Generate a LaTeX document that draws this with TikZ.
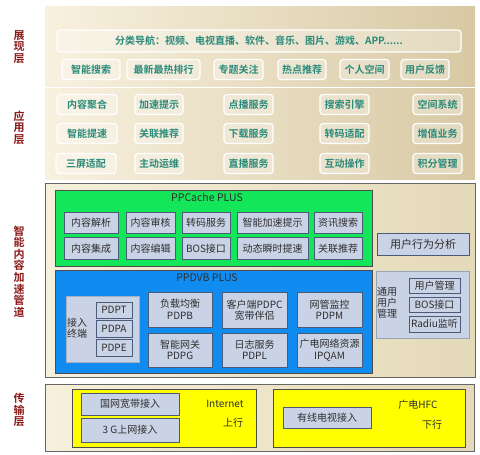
\documentclass[tikz,border=0pt]{standalone}
\usepackage{fontspec}
\setmainfont{Noto Sans CJK SC}[BoldFont={Noto Sans CJK SC Bold}]
\definecolor{labred}{HTML}{8B1A1A}
\definecolor{teal2}{HTML}{2A8A7A}
\definecolor{creamL}{HTML}{F8F1DF}
\definecolor{creamR}{HTML}{D8C9A4}
\definecolor{bg3L}{HTML}{F6F0DC}
\definecolor{bg3R}{HTML}{E4D9B8}
\definecolor{grn}{HTML}{14E65A}
\definecolor{blu}{HTML}{108CF0}
\definecolor{gfill}{HTML}{C9D3E5}
\definecolor{gdraw}{HTML}{4A5B7A}
\definecolor{yel}{HTML}{FFFF00}
\definecolor{txt}{HTML}{2E2E2E}
\tikzset{
  btn/.style={draw=white, line width=1.2pt, rounded corners=3pt, fill=white, fill opacity=0.3, text opacity=1,
    text=teal2, font=\bfseries\fontsize{10}{11}\selectfont, inner sep=0pt, minimum height=20pt},
  gbox/.style={draw=gdraw, line width=0.7pt, fill=gfill, inner sep=0pt, text=txt,
    font=\fontsize{10}{11.5}\selectfont, align=center},
  lyr/.style={text=labred, font=\bfseries\fontsize{11}{11.6}\selectfont, align=center, inner sep=0pt},
  plain/.style={text=txt, font=\fontsize{10}{11}\selectfont, align=center, inner sep=0pt},
}
\begin{document}
\begin{tikzpicture}[x=1pt,y=-1pt]
\useasboundingbox[fill=white] (0,0) rectangle (480,455);
% ---- layer 1 & 2 backgrounds
\shade[left color=creamL, right color=creamR] (45,6) rectangle (475,86);
\shade[left color=creamL, right color=creamR] (45,88) rectangle (475,179);
% ---- layer 3 background
\shade[left color=bg3L, right color=bg3R] (45,183) rectangle (475,377);
\draw[color=gray!80!black, line width=0.9pt] (45,183) rectangle (475,377);
% ---- layer 4 background
\shade[left color=bg3L, right color=bg3R] (45,384) rectangle (474,451);
\draw[color=gray!80!black, line width=0.9pt] (45,384) rectangle (474,451);

% ---- left labels
\node[lyr] (l1) at (19,47) {展\\现\\层};
\node[lyr] (l2) at (19,127.5) {应\\用\\层};
\node[lyr] (l3) at (19,271.5) {智\\能\\内\\容\\加\\速\\管\\道};
\node[lyr] (l4) at (19,410) {传\\输\\层};

% ---- layer 1
\node[btn, minimum width=404pt, minimum height=22pt] (nav) at (259,41) {分类导航：视频、电视直播、软件、音乐、图片、游戏、APP......};
\node[btn, minimum width=58pt] (p1) at (91,69.5) {智能搜索};
\node[btn, minimum width=73pt] (p2) at (163.5,69.5) {最新最热排行};
\node[btn, minimum width=49pt] (p3) at (238.5,69.5) {专题关注};
\node[btn, minimum width=48pt] (p4) at (302,69.5) {热点推荐};
\node[btn, minimum width=49pt] (p5) at (364.5,69.5) {个人空间};
\node[btn, minimum width=48pt] (p6) at (425,69.5) {用户反馈};

% ---- layer 2
\node[btn, minimum width=60pt] (a11) at (87,104.5) {内容聚合};
\node[btn, minimum width=48pt] (a12) at (159,104.5) {加速提示};
\node[btn, minimum width=49pt] (a13) at (248.5,104.5) {点播服务};
\node[btn, minimum width=49pt] (a14) at (344.5,104.5) {搜索引擎};
\node[btn, minimum width=49pt] (a15) at (437.5,104.5) {空间系统};
\node[btn, minimum width=60pt] (a21) at (87,133.5) {智能提速};
\node[btn, minimum width=48pt] (a22) at (159,133.5) {关联推荐};
\node[btn, minimum width=49pt] (a23) at (248.5,133.5) {下载服务};
\node[btn, minimum width=49pt] (a24) at (344.5,133.5) {转码适配};
\node[btn, minimum width=49pt] (a25) at (437.5,133.5) {增值业务};
\node[btn, minimum width=60pt] (a31) at (86,163.5) {三屏适配};
\node[btn, minimum width=48pt] (a32) at (159,163.5) {主动运维};
\node[btn, minimum width=49pt] (a33) at (248.5,163.5) {直播服务};
\node[btn, minimum width=49pt] (a34) at (344.5,163.5) {互动操作};
\node[btn, minimum width=49pt] (a35) at (437.5,163.5) {积分管理};

% ---- layer 3: PPCache
\draw[fill=grn, draw=black!70, line width=0.8pt] (55,190) rectangle (372,266);
\node[plain, font=\fontsize{10.5}{11}\selectfont] (cacheT) at (207,197) {PPCache PLUS};
\node[gbox, minimum width=54pt, minimum height=21pt] (c11) at (91,222.5) {内容解析};
\node[gbox, minimum width=49pt, minimum height=21pt] (c12) at (150.5,222.5) {内容审核};
\node[gbox, minimum width=48pt, minimum height=21pt] (c13) at (206,222.5) {转码服务};
\node[gbox, minimum width=71pt, minimum height=21pt] (c14) at (272.5,222.5) {智能加速提示};
\node[gbox, minimum width=48pt, minimum height=21pt] (c15) at (338,222.5) {资讯搜索};
\node[gbox, minimum width=54pt, minimum height=22pt] (c21) at (91,248.5) {内容集成};
\node[gbox, minimum width=49pt, minimum height=22pt] (c22) at (150.5,248.5) {内容编辑};
\node[gbox, minimum width=48pt, minimum height=22pt] (c23) at (206,248.5) {BOS接口};
\node[gbox, minimum width=71pt, minimum height=22pt] (c24) at (272.5,248.5) {动态瞬时提速};
\node[gbox, minimum width=48pt, minimum height=22pt] (c25) at (338,248.5) {关联推荐};
\node[gbox, minimum width=92pt, minimum height=22pt, font=\fontsize{11}{12}\selectfont] (uba) at (423,244) {用户行为分析};

% ---- layer 3: PPDVB
\draw[fill=blu, draw=black!70, line width=0.8pt] (55,270) rectangle (372,373);
\node[plain, font=\fontsize{10.5}{11}\selectfont] (dvbT) at (207,278) {PPDVB PLUS};
\draw[fill=gfill, draw=gfill!70!gdraw, line width=0.7pt] (66,296) rectangle (139,362);
\node[plain] (term) at (77,328) {接入\\终端};
\node[gbox, minimum width=36pt, minimum height=16pt] (pdpt) at (114,310) {PDPT};
\node[gbox, minimum width=36pt, minimum height=17pt] (pdpa) at (114,328.5) {PDPA};
\node[gbox, minimum width=36pt, minimum height=17pt] (pdpe) at (114,347.5) {PDPE};
\node[gbox, minimum width=64pt, minimum height=35pt] (d11) at (180,309.5) {负载均衡\\PDPB};
\node[gbox, minimum width=64pt, minimum height=34pt] (d21) at (180,350) {智能网关\\PDPG};
\node[gbox, minimum width=65pt, minimum height=36pt] (d12) at (254.5,310) {客户端PDPC\\宽带伴侣};
\node[gbox, minimum width=65pt, minimum height=34pt] (d22) at (254.5,350) {日志服务\\PDPL};
\node[gbox, minimum width=65pt, minimum height=35pt] (d13) at (329.5,310) {网管监控\\PDPM};
\node[gbox, minimum width=65pt, minimum height=34pt] (d23) at (329.5,350) {广电网络资源\\IPQAM};

% ---- 通用用户管理
\draw[fill=gfill, draw=gfill!60!gdraw, line width=0.7pt] (376,271) rectangle (469,338);
\node[plain, align=left] (um) at (387,303) {通用\\用户\\管理};
\node[gbox, minimum width=51pt, minimum height=15pt] (u1) at (434.5,285.5) {用户管理};
\node[gbox, minimum width=51pt, minimum height=15pt] (u2) at (434.5,304.5) {BOS接口};
\node[gbox, minimum width=51pt, minimum height=16pt] (u3) at (434.5,324) {Radiu监听};

% ---- layer 4
\draw[fill=yel, draw=black!70, line width=0.8pt] (72,389) rectangle (256,447);
\draw[fill=yel, draw=black!70, line width=0.8pt] (273,389) rectangle (465,447);
\node[gbox, minimum width=98pt, minimum height=22pt] (t1) at (130,404) {国网宽带接入};
\node[gbox, minimum width=98pt, minimum height=24pt] (t2) at (130,430) {3 G上网接入};
\node[plain] (inet) at (225,404) {Internet};
\node[plain] (up) at (233,423) {上行};
\node[gbox, minimum width=88pt, minimum height=21pt] (t3) at (327,417.5) {有线电视接入};
\node[plain] (hfc) at (418,405) {广电HFC};
\node[plain] (down) at (432,425) {下行};
\end{tikzpicture}
\end{document}
